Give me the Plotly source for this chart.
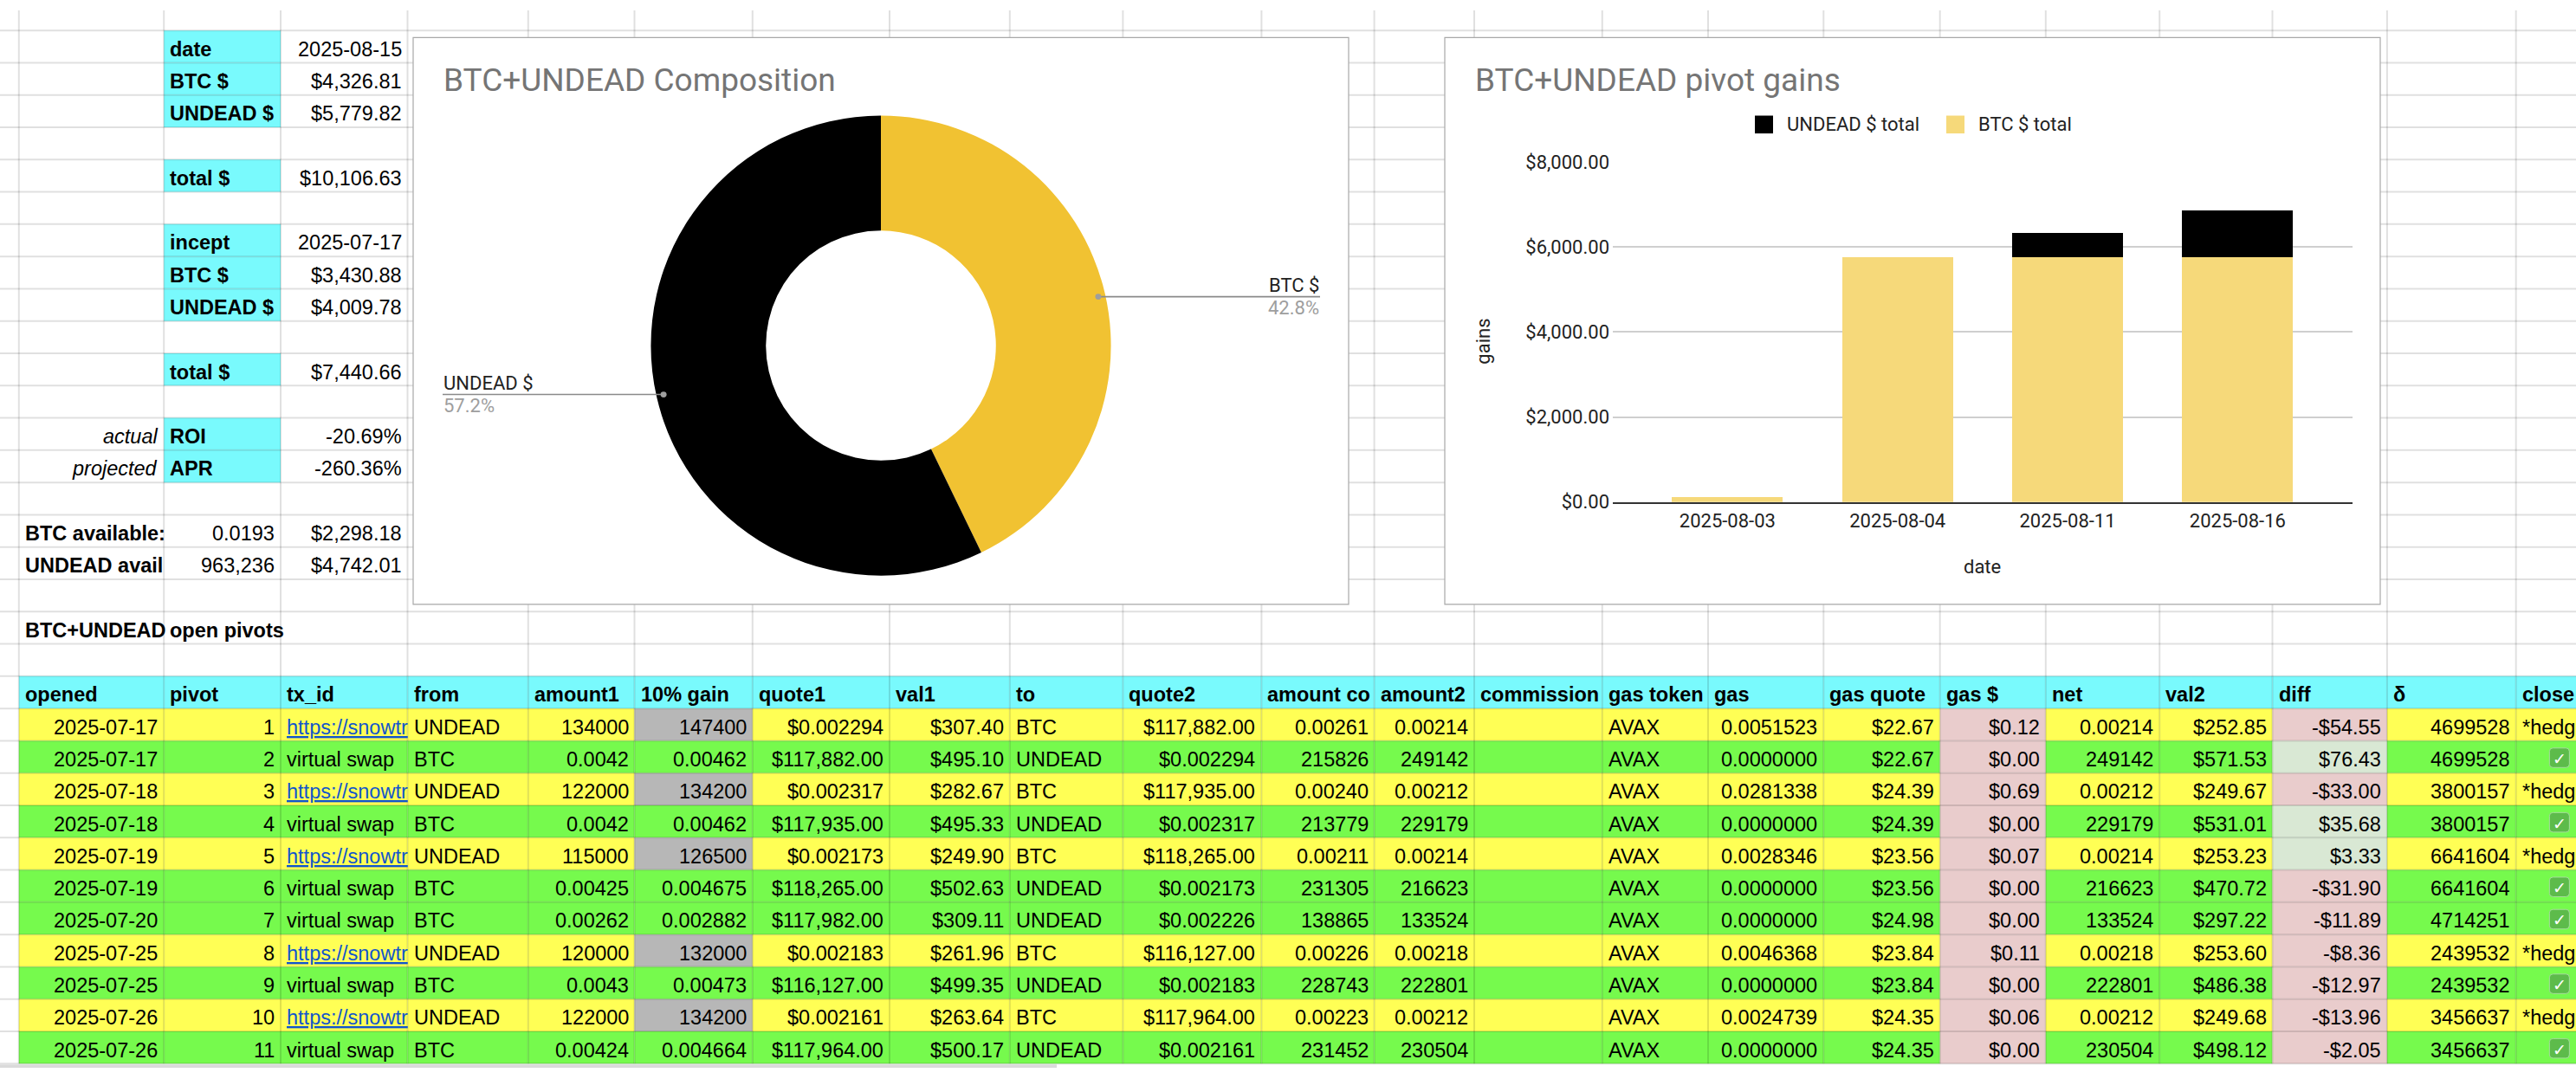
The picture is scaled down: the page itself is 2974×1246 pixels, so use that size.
import numpy as np
import plotly.graph_objects as go

# ======================= DATA =======================
# summary block (sheet rows given by position)
summary_rows = [1, 2, 3, 5, 7, 8, 9, 11, 13, 14]
summary_keys = ['date', 'BTC $', 'UNDEAD $', 'total $', 'incept', 'BTC $', 'UNDEAD $', 'total $', 'ROI', 'APR']
summary_vals = ['2025-08-15', '$4,326.81', '$5,779.82', '$10,106.63', '2025-07-17', '$3,430.88',
                '$4,009.78', '$7,440.66', '-20.69%', '-260.36%']
note_rows = [13, 14]
note_text = ['actual', 'projected']
avail_rows = [16, 17]
avail_labels = ['BTC available:', 'UNDEAD avail']
avail_amount = ['0.0193', '963,236']
avail_usd = ['$2,298.18', '$4,742.01']
section_row = 19
section_title = ['BTC+UNDEAD', 'open pivots']

# composition donut
comp_labels = ['BTC $', 'UNDEAD $']
comp_values = [4326.81, 5779.82]
comp_colors = ['#F1C232', '#000000']

# pivot gains stacked bars
gain_dates = ['2025-08-03', '2025-08-04', '2025-08-11', '2025-08-16']
btc_total = [116, 5756, 5756, 5756]
undead_total = [0, 0, 571, 1106]

# open pivots table
headers = ['opened', 'pivot', 'tx_id', 'from', 'amount1', '10% gain', 'quote1', 'val1', 'to', 'quote2',
           'amount co', 'amount2', 'commission', 'gas token', 'gas', 'gas quote', 'gas $', 'net',
           'val2', 'diff', 'δ', 'close']
opened = ['2025-07-17', '2025-07-17', '2025-07-18', '2025-07-18', '2025-07-19', '2025-07-19', '2025-07-20',
          '2025-07-25', '2025-07-25', '2025-07-26', '2025-07-26']
pivot = [1, 2, 3, 4, 5, 6, 7, 8, 9, 10, 11]
tx_id = ['https://snowtr', 'virtual swap', 'https://snowtr', 'virtual swap',
         'https://snowtr', 'virtual swap', 'virtual swap', 'https://snowtr', 'virtual swap',
         'https://snowtr', 'virtual swap']
from_tok = ['UNDEAD', 'BTC', 'UNDEAD', 'BTC', 'UNDEAD', 'BTC', 'BTC', 'UNDEAD', 'BTC', 'UNDEAD', 'BTC']
amount1 = ['134000', '0.0042', '122000', '0.0042', '115000', '0.00425', '0.00262', '120000', '0.0043',
           '122000', '0.00424']
gain10 = ['147400', '0.00462', '134200', '0.00462', '126500', '0.004675', '0.002882', '132000', '0.00473',
          '134200', '0.004664']
quote1 = ['$0.002294', '$117,882.00', '$0.002317', '$117,935.00', '$0.002173', '$118,265.00', '$117,982.00',
          '$0.002183', '$116,127.00', '$0.002161', '$117,964.00']
val1 = ['$307.40', '$495.10', '$282.67', '$495.33', '$249.90', '$502.63', '$309.11', '$261.96', '$499.35',
        '$263.64', '$500.17']
to_tok = ['BTC', 'UNDEAD', 'BTC', 'UNDEAD', 'BTC', 'UNDEAD', 'UNDEAD', 'BTC', 'UNDEAD', 'BTC', 'UNDEAD']
quote2 = ['$117,882.00', '$0.002294', '$117,935.00', '$0.002317', '$118,265.00', '$0.002173', '$0.002226',
          '$116,127.00', '$0.002183', '$117,964.00', '$0.002161']
amount_comm = ['0.00261', '215826', '0.00240', '213779', '0.00211', '231305', '138865', '0.00226', '228743',
               '0.00223', '231452']
amount2 = ['0.00214', '249142', '0.00212', '229179', '0.00214', '216623', '133524', '0.00218', '222801',
           '0.00212', '230504']
commission = [''] * 11
gas_token = ['AVAX'] * 11
gas = ['0.0051523', '0.0000000', '0.0281338', '0.0000000', '0.0028346', '0.0000000', '0.0000000',
       '0.0046368', '0.0000000', '0.0024739', '0.0000000']
gas_quote = ['$22.67', '$22.67', '$24.39', '$24.39', '$23.56', '$23.56', '$24.98', '$23.84', '$23.84',
             '$24.35', '$24.35']
gas_usd = ['$0.12', '$0.00', '$0.69', '$0.00', '$0.07', '$0.00', '$0.00', '$0.11', '$0.00', '$0.06', '$0.00']
net = ['0.00214', '249142', '0.00212', '229179', '0.00214', '216623', '133524', '0.00218', '222801',
       '0.00212', '230504']
val2 = ['$252.85', '$571.53', '$249.67', '$531.01', '$253.23', '$470.72', '$297.22', '$253.60', '$486.38',
        '$249.68', '$498.12']
diff = [-54.55, 76.43, -33.00, 35.68, 3.33, -31.90, -11.89, -8.36, -12.97, -13.96, -2.05]
delta = ['4699528', '4699528', '3800157', '3800157', '6641604', '6641604', '4714251', '2439532', '2439532',
         '3456637', '3456637']
closed = ['*hedg', '✅', '*hedg', '✅', '*hedg', '✅', '✅', '*hedg', '✅', '*hedg', '✅']

# ======================= STYLE / GEOMETRY =======================
W, H = 2974, 1246
COLS = [0, 21.8, 189.2, 324, 470.5, 609.8, 732.5, 868.8, 1027, 1165.8, 1296.4, 1456.4, 1586.6, 1702,
        1849.8, 1972, 2105.3, 2239.7, 2361.8, 2493.2, 2623.5, 2755.9, 2904.7, 3005]
ROW0, RH = 23.6, 38.05
PAD = 7
FS = 23.5
TEXT_DY = 3
SHEET_FONT = 'Liberation Sans, Arial, sans-serif'
CHART_FONT = 'Roboto, Arial, sans-serif'
CYAN, YELLOW, GREEN = '#79FAFD', '#FFFF55', '#76FA4D'
GRAY, PINK, PALEGREEN = '#B7B7B7', '#E9CCCC', '#D9E8D4'
GRID = 'rgba(0,0,0,0.12)'

BOX1 = (477, 32, 1557, 700)
BOX2 = (1668, 32, 2748, 700)
PIE_CX, PIE_CY, PIE_R = 1017, 395, 271
PLOT2 = (1862, 178.5, 2715.7, 579.4)


def X(px):
    return px / W


def Y(py):
    return 1 - py / H


def row_top(r):
    return ROW0 + RH * (r - 1)


shapes, annotations = [], []


def rect(x0, y0, x1, y1, fill, line_color=None, line_width=0, layer='below'):
    shapes.append(dict(type='rect', xref='paper', yref='paper', x0=X(x0), x1=X(x1), y0=Y(y1), y1=Y(y0),
                       fillcolor=fill, line=dict(color=line_color or fill, width=line_width), layer=layer))


def line(x0, y0, x1, y1, color, width, layer='below'):
    shapes.append(dict(type='line', xref='paper', yref='paper', x0=X(x0), x1=X(x1), y0=Y(y0), y1=Y(y1),
                       line=dict(color=color, width=width), layer=layer))


def cell_fill(col, row, color):
    rect(COLS[col], row_top(row), COLS[col + 1], row_top(row + 1), color)


def cell_text(col, row, text, align='left', weight='normal', style='normal', color='#000000'):
    x0, x1 = COLS[col], COLS[col + 1]
    yc = row_top(row) + RH / 2 + TEXT_DY
    ann = dict(xref='paper', yref='paper', y=Y(yc), yanchor='middle', text=text, showarrow=False,
               align=align, borderpad=0, borderwidth=0,
               font=dict(family=SHEET_FONT, size=FS, color=color, weight=weight, style=style))
    if align == 'left':
        ann.update(x=X(x0 + PAD), xanchor='left')
    else:
        ann.update(x=X(x1 - PAD), xanchor='right')
    annotations.append(ann)


def text_px(x, y, text, size, color, xanchor='left', family=CHART_FONT, angle=0, weight='normal'):
    annotations.append(dict(xref='paper', yref='paper', x=X(x), y=Y(y), xanchor=xanchor, yanchor='middle',
                            text=text, showarrow=False, textangle=angle, borderpad=0,
                            font=dict(family=family, size=size, color=color, weight=weight)))


def money(v):
    return ('-$' if v < 0 else '$') + f'{abs(v):,.2f}'


# ---------------- cell fills ----------------
for r in summary_rows:
    cell_fill(2, r, CYAN)

HEADER_ROW = 21
for k in range(len(headers)):
    cell_fill(k + 1, HEADER_ROW, CYAN)

n_rows = len(opened)
for i in range(n_rows):
    r = HEADER_ROW + 1 + i
    base = YELLOW if from_tok[i] == 'UNDEAD' else GREEN
    for k in range(len(headers)):
        c = base
        if headers[k] == '10% gain' and from_tok[i] == 'UNDEAD':
            c = GRAY
        if headers[k] == 'gas $':
            c = PINK
        if headers[k] == 'diff':
            c = PINK if diff[i] < 0 else PALEGREEN
        cell_fill(k + 1, r, c)

# ---------------- sheet grid ----------------
last_row = HEADER_ROW + n_rows
for r in range(1, last_row + 2):
    line(0, row_top(r), W, row_top(r), GRID, 2)
for c in COLS[1:]:
    line(c, 0, c, row_top(last_row + 1), GRID, 2)
rect(0, row_top(last_row + 1) + 1, 1220, H, '#DADADA')

# ---------------- chart boxes ----------------
for b in (BOX1, BOX2):
    rect(b[0], b[1], b[2], b[3], '#FFFFFF', '#A8A8A8', 1.2)

# ---------------- summary text ----------------
for r, k, v in zip(summary_rows, summary_keys, summary_vals):
    cell_text(2, r, k, 'left', weight='bold')
    cell_text(3, r, v, 'right')
for r, t in zip(note_rows, note_text):
    cell_text(1, r, t, 'right', style='italic')
for r, lab, a, u in zip(avail_rows, avail_labels, avail_amount, avail_usd):
    cell_text(1, r, lab, 'left', weight='bold')
    cell_text(2, r, a, 'right')
    cell_text(3, r, u, 'right')
cell_text(1, section_row, section_title[0], 'left', weight='bold')
cell_text(2, section_row, section_title[1], 'left', weight='bold')

# ---------------- table text ----------------
columns = [opened, [str(p) for p in pivot], tx_id, from_tok, amount1, gain10, quote1, val1, to_tok, quote2,
           amount_comm, amount2, commission, gas_token, gas, gas_quote, gas_usd, net, val2,
           [money(d) for d in diff], delta, closed]
left_cols = {'tx_id', 'from', 'to', 'gas token', 'close', 'commission'}

for k, h in enumerate(headers):
    cell_text(k + 1, HEADER_ROW, h, 'left', weight='bold')

for k, h in enumerate(headers):
    for i, v in enumerate(columns[k]):
        r = HEADER_ROW + 1 + i
        if v == '':
            continue
        if h == 'close' and v == '✅':
            x0, x1 = COLS[k + 1], COLS[k + 2]
            cx = (x0 + x1) / 2
            cy = row_top(r) + RH / 2 + 1
            s, rr = 11.5, 4
            path = (f'M {X(cx - s + rr)},{Y(cy - s)} L {X(cx + s - rr)},{Y(cy - s)} '
                    f'Q {X(cx + s)},{Y(cy - s)} {X(cx + s)},{Y(cy - s + rr)} '
                    f'L {X(cx + s)},{Y(cy + s - rr)} Q {X(cx + s)},{Y(cy + s)} {X(cx + s - rr)},{Y(cy + s)} '
                    f'L {X(cx - s + rr)},{Y(cy + s)} Q {X(cx - s)},{Y(cy + s)} {X(cx - s)},{Y(cy + s - rr)} '
                    f'L {X(cx - s)},{Y(cy - s + rr)} Q {X(cx - s)},{Y(cy - s)} {X(cx - s + rr)},{Y(cy - s)} Z')
            shapes.append(dict(type='path', xref='paper', yref='paper', path=path, fillcolor='#5DBB4B',
                               line=dict(color='#A6DC9C', width=1), layer='below'))
            text_px(cx, cy + 1, '✓', 19, '#FFFFFF', xanchor='center', family='DejaVu Sans', weight='bold')
            continue
        if h == 'tx_id' and v.startswith('http'):
            cell_text(k + 1, r, f'<u>{v}</u>', 'left', color='#1155CC')
            continue
        cell_text(k + 1, r, v, 'left' if h in left_cols else 'right')

# ======================= DONUT =======================
fig = go.Figure()
fig.add_trace(go.Pie(
    labels=comp_labels, values=comp_values, hole=0.5, sort=False, direction='clockwise', rotation=0,
    marker=dict(colors=comp_colors, line=dict(width=0)), textinfo='none', showlegend=False,
    domain=dict(x=[X(PIE_CX - PIE_R), X(PIE_CX + PIE_R)], y=[Y(PIE_CY + PIE_R), Y(PIE_CY - PIE_R)]),
))

text_px(BOX1[0] + 34, 82.5, 'BTC+UNDEAD Composition', 37, '#757575')

vals = np.array(comp_values, dtype=float)
frac = vals / vals.sum()
start = np.concatenate([[0.0], np.cumsum(frac)[:-1]])
for lab, f, s0 in zip(comp_labels, frac, start):
    ang = (s0 + f / 2) * 2 * np.pi
    dx, dy = PIE_CX + 0.95 * PIE_R * np.sin(ang), PIE_CY - 0.95 * PIE_R * np.cos(ang)
    if np.sin(ang) >= 0:
        ex, anch = BOX1[2] - 33, 'right'
    else:
        ex, anch = BOX1[0] + 34, 'left'
    line(dx, dy, ex, dy, '#8A8A8A', 1.6, layer='above')
    shapes.append(dict(type='circle', xref='paper', yref='paper', x0=X(dx - 3.5), x1=X(dx + 3.5),
                       y0=Y(dy + 3.5), y1=Y(dy - 3.5), fillcolor='#9E9E9E', line=dict(width=0),
                       layer='above'))
    text_px(ex, dy - 13.5, lab, 22, '#222222', xanchor=anch)
    text_px(ex, dy + 13, f'{f * 100:.1f}%', 22, '#9E9E9E', xanchor=anch)

# ======================= STACKED BARS =======================
series = [('BTC $ total', btc_total, '#F6D97A'), ('UNDEAD $ total', undead_total, '#000000')]
for name, ys, col in series:
    fig.add_trace(go.Bar(x=gain_dates, y=ys, name=name, marker=dict(color=col, line=dict(width=0)),
                         showlegend=False))

text_px(BOX2[0] + 34, 82.5, 'BTC+UNDEAD pivot gains', 37, '#757575')
# legend (top series first)
leg_x = 2026
for name, ys, col in series[::-1]:
    rect(leg_x, 124, leg_x + 21, 145, col, layer='above')
    text_px(leg_x + 36, 134.5, name, 22, '#222222')
    leg_x += 221
text_px(1713, 390.5, 'gains', 22, '#222222', xanchor='center', angle=-90)
text_px(2288, 656, 'date', 22, '#222222', xanchor='center')

fig.update_layout(
    width=W, height=H, autosize=False,
    margin=dict(l=0, r=0, t=0, b=0, pad=0),
    paper_bgcolor='#FFFFFF', plot_bgcolor='rgba(0,0,0,0)',
    font=dict(family=CHART_FONT, color='#222222'),
    barmode='stack', bargap=0.349,
    showlegend=False,
    xaxis=dict(domain=[X(PLOT2[0]), X(PLOT2[2])], type='category', range=[-0.674, 3.674],
               showgrid=False, zeroline=False, showline=True, linecolor='#333333', linewidth=2,
               ticks='', tickfont=dict(size=22, color='#222222'), ticklabelstandoff=1, fixedrange=True),
    yaxis=dict(domain=[Y(PLOT2[3]), Y(PLOT2[1])], range=[0, 8000], dtick=2000, tickformat='$,.2f',
               showgrid=True, gridcolor='#CFCFCF', gridwidth=1.5, zeroline=False, showline=False,
               ticks='', tickfont=dict(size=22, color='#222222'), ticklabelstandoff=3, fixedrange=True),
    shapes=shapes, annotations=annotations,
)

fig.write_html('out.html')
